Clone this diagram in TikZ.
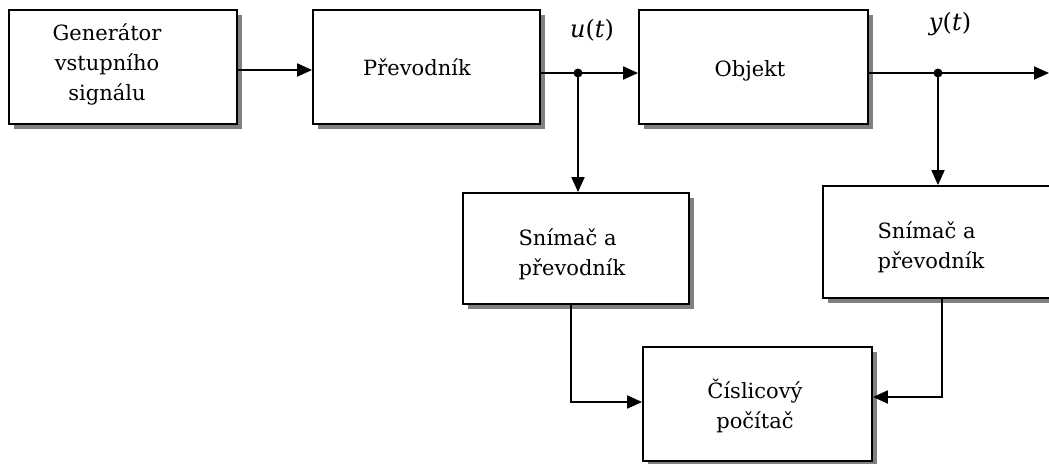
\documentclass[tikz,border=0pt]{standalone}
\usepackage{fontspec}
\setmainfont{DejaVu Serif}
\usetikzlibrary{arrows.meta,shadows}
\begin{document}
\begin{tikzpicture}[x=1pt,y=-1pt,
  box/.style={draw,line width=1.8pt,fill=white,inner sep=0pt,
    drop shadow={shadow xshift=4.5pt,shadow yshift=-4.5pt,fill=black!50,opacity=1}},
  txt/.style={font=\fontsize{21}{30}\selectfont,inner sep=0pt},
  lbl/.style={font=\fontsize{24}{30}\selectfont,inner sep=0pt},
  arr/.style={line width=1.8pt,-{Triangle[length=15pt,width=13pt]}},
  dot/.style={circle,fill=black,inner sep=0pt,minimum size=9pt}]
\useasboundingbox (0,0) rectangle (1049,463);
% boxes
\node[box,minimum width=228pt,minimum height=114pt] (gen) at (123,67) {};
\node[box,minimum width=227pt,minimum height=114pt] (conv) at (426.5,67) {};
\node[box,minimum width=229pt,minimum height=114pt] (obj) at (753.5,67) {};
\node[box,minimum width=226pt,minimum height=111pt] (sn1) at (576,248.5) {};
\node[box,minimum width=233pt,minimum height=112pt] (sn2) at (939.5,242) {};
\node[box,minimum width=229pt,minimum height=114pt] (cpu) at (757.5,404) {};
% texts
\node[txt,align=center] (gent) at (107,64) {Generátor\\vstupního\\signálu};
\node[txt,anchor=base] (convt) at (417,75) {Převodník};
\node[txt,anchor=base] (objt) at (750,76) {Objekt};
\node[txt,align=left] (sn1t) at (572,254.5) {Snímač a\\převodník};
\node[txt,align=left] (sn2t) at (931,247.5) {Snímač a\\převodník};
\node[txt,align=center] (cput) at (755,405.5) {Číslicový\\počítač};
\node[lbl] (ul) at (592,30) {\textit{u}(\textit{t})};
\node[lbl] (yl) at (950,24) {\textit{y}(\textit{t})};
% junctions
\coordinate (ju) at (578,73);
\coordinate (jy) at (938,73);
\coordinate (out) at (1049,73);
% connectors
\draw[arr] ([yshift=-3pt]gen.east) -- ([yshift=-3pt]conv.west);
\draw[arr] ([yshift=-6pt]conv.east) -- ([yshift=-6pt]obj.west);
\draw[arr] ([yshift=-6pt]obj.east) -- (out);
\draw[arr] (ju) -- (ju |- sn1.north);
\draw[arr] (jy) -- (jy |- sn2.north);
\draw[arr] ([xshift=-5pt]sn1.south) |- ([yshift=2pt]cpu.west);
\draw[arr] ([xshift=2.5pt]sn2.south) |- ([yshift=7pt]cpu.east);
\node[dot] (dju) at (ju) {};
\node[dot] (djy) at (jy) {};
\end{tikzpicture}
\end{document}
